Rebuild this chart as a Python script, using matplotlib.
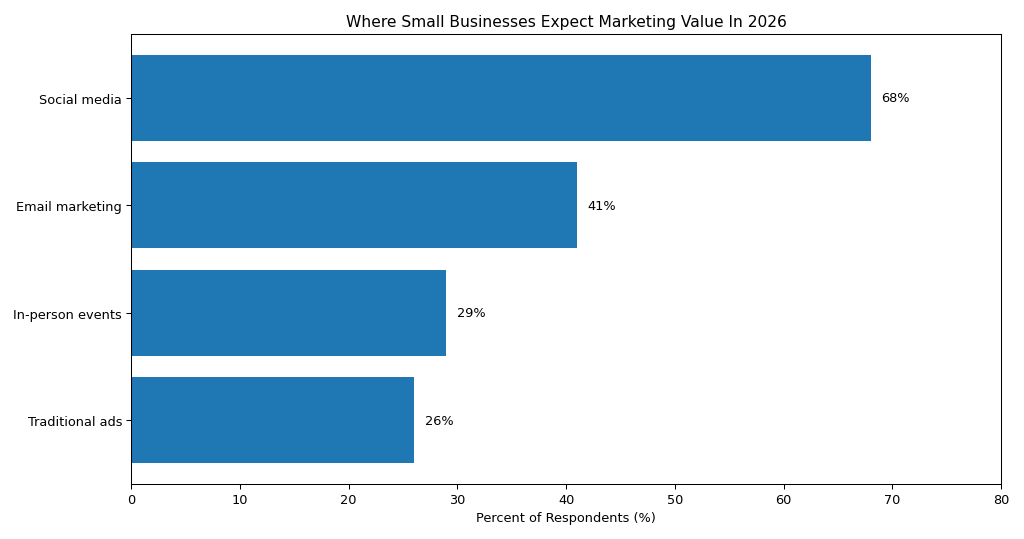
import matplotlib
matplotlib.use("Agg")
import matplotlib.pyplot as plt

# survey results
channels = ["Social media", "Email marketing", "In-person events", "Traditional ads"]
percents = [68, 41, 29, 26]

fig, ax = plt.subplots(figsize=(11.0, 5.8), dpi=93.1)
fig.subplots_adjust(left=0.128, right=0.9775, top=0.935, bottom=0.102)

ax.barh(channels, percents, color="#1f77b4")
ax.invert_yaxis()

for i, v in enumerate(percents):
    ax.text(v + 1, i, f"{v}%", va="center", ha="left")

ax.set_xlim(0, 80)
ax.set_xlabel("Percent of Respondents (%)")
ax.set_title("Where Small Businesses Expect Marketing Value In 2026")

fig.savefig("out.png", dpi=93.1)
